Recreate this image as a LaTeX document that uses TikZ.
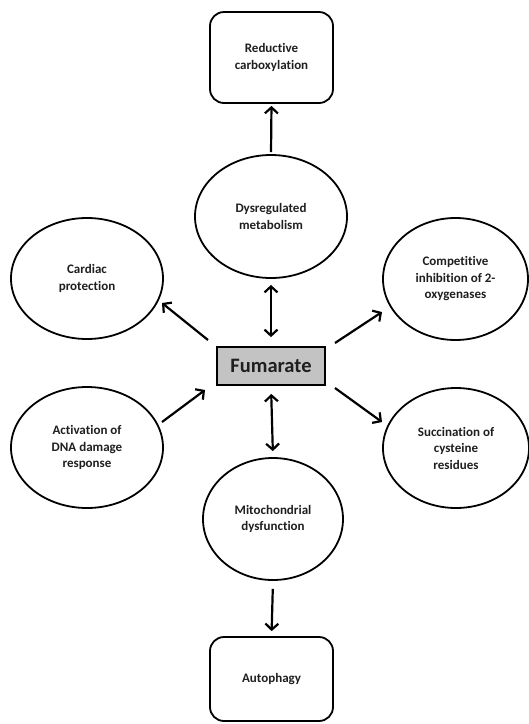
\documentclass[tikz,border=0pt]{standalone}
\usepackage{fontspec}
\setmainfont{Carlito}[Ligatures=NoCommon]
\usetikzlibrary{shapes.geometric,arrows.meta}
\definecolor{txt}{HTML}{1F1F1F}
\definecolor{fumfill}{HTML}{C3C3C3}
\tikzset{
  oval/.style={ellipse, draw=black, line width=1.8pt, inner sep=0pt, align=center, text=txt,
    font=\fontsize{13}{16.5}\selectfont\bfseries},
  rbox/.style={rectangle, rounded corners=14pt, draw=black, line width=1.8pt, inner sep=0pt, align=center, text=txt,
    minimum width=123pt, font=\fontsize{13}{16.5}\selectfont\bfseries},
  fumbox/.style={rectangle, draw=black, line width=1.8pt, fill=fumfill, inner sep=0pt, text=txt,
    minimum width=108pt, minimum height=38pt, font=\fontsize{20.5}{24}\selectfont\bfseries},
  arr/.style={line width=2.2pt, -{Straight Barb[length=6pt,width=13pt,line width=2.2pt]}},
  darr/.style={line width=2.2pt, {Straight Barb[length=6pt,width=13pt,line width=2.2pt]}-{Straight Barb[length=6pt,width=13pt,line width=2.2pt]}}
}
\begin{document}
\begin{tikzpicture}[x=1pt,y=-1pt]
\useasboundingbox[fill=white] (0,0) rectangle (529,724);
% nodes
\node[rbox, minimum height=91pt] (red) at (271.5,57.5) {Reductive\\carboxylation};
\node[oval, minimum width=152pt, minimum height=123pt] (dys) at (271,216.5) {Dysregulated\\metabolism};
\node[oval, minimum width=152pt, minimum height=121pt] (card) at (87,278.5) {Cardiac\\protection};
\node[oval, minimum width=145pt, minimum height=122pt] (comp) at (455.5,279) {Competitive\\inhibition of 2-\\oxygenases};
\node[fumbox] (fum) at (271,366) {Fumarate};
\node[oval, minimum width=152pt, minimum height=121pt] (act) at (87,447.5) {Activation of\\DNA damage\\response};
\node[oval, minimum width=146pt, minimum height=120pt] (succ) at (456,448) {Succination of\\cysteine\\residues};
\node[oval, minimum width=140pt, minimum height=122pt] (mito) at (273,519) {Mitochondrial\\dysfunction};
\node[rbox, minimum height=84pt] (auto) at (271.5,679) {Autophagy};
% arrow end coordinates
\coordinate (fc1) at (208,340);
\coordinate (cc1) at (162,303);
\coordinate (ac1) at (162,422);
\coordinate (fc2) at (205,390);
\coordinate (fc3) at (335,343);
\coordinate (mc3) at (382,312);
\coordinate (fc4) at (335,388);
\coordinate (sc4) at (382,422);
% connectors
\draw[arr, shorten <=2pt, shorten >=2pt] (dys.north) -- (red.south);
\draw[darr, shorten <=6pt, shorten >=9pt] (dys.south) -- (fum.north);
\draw[darr, shorten <=8pt, shorten >=6pt] (fum.south) -- (mito.north);
\draw[arr, shorten <=8pt, shorten >=5pt] (mito.south) -- (auto.north);
\draw[arr] (fc1) -- (cc1);
\draw[arr] (ac1) -- (fc2);
\draw[arr] (fc3) -- (mc3);
\draw[arr] (fc4) -- (sc4);
\end{tikzpicture}
\end{document}
